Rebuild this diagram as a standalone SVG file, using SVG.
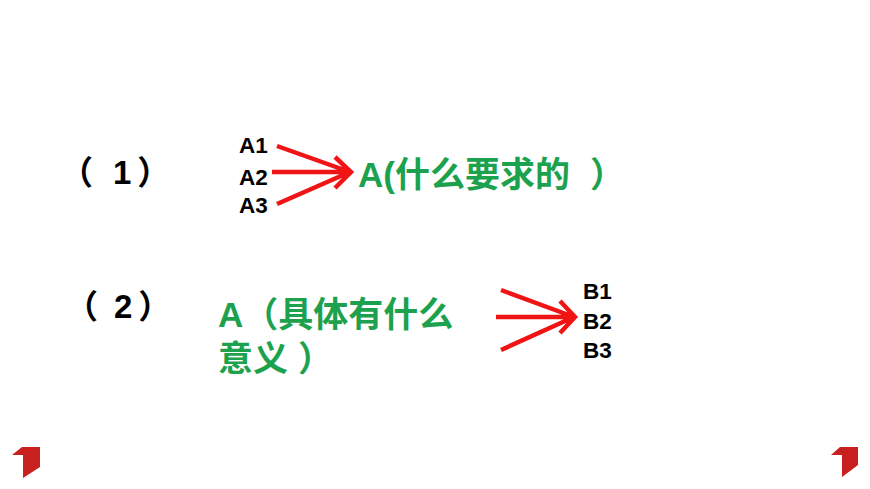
<svg xmlns="http://www.w3.org/2000/svg" width="870" height="489" viewBox="0 0 870 489">
<style>
.lbl{font-family:"Liberation Sans","Noto Sans CJK SC",sans-serif;font-weight:bold;fill:#000}
.g{font-family:"Liberation Sans","Noto Sans CJK SC",sans-serif;font-weight:bold;fill:#1ca24e;font-size:35px}
.ab{font-size:22.5px}
.num{font-size:33px}
.ar{stroke:#f01414;stroke-width:4.5;fill:none;stroke-linecap:butt;stroke-linejoin:miter}
.corner{fill:#c8201e}
</style>
<rect width="870" height="489" fill="#fff"/>
<g id="label1"><text class="lbl num" x="60" y="184">（<tspan dx="20">1</tspan><tspan dx="6">）</tspan></text></g>
<g id="label2"><text class="lbl num" x="65" y="318">（<tspan dx="16">2</tspan><tspan dx="6">）</tspan></text></g>
<g id="A1"><text class="lbl ab" x="239" y="153">A1</text></g>
<g id="A2"><text class="lbl ab" x="239" y="185">A2</text></g>
<g id="A3"><text class="lbl ab" x="239" y="213">A3</text></g>
<g id="A"><text class="g" x="358" y="187">A(什么要求的<tspan dx="20">）</tspan></text></g>
<g id="A-meaning"><text class="g" x="218" y="327">A（具体有什么</text><text class="g" x="218" y="371">意义<tspan dx="10">）</tspan></text></g>
<g id="B1"><text class="lbl ab" x="583" y="299">B1</text></g>
<g id="B2"><text class="lbl ab" x="583" y="329">B2</text></g>
<g id="B3"><text class="lbl ab" x="583" y="358">B3</text></g>
<g id="connectors">
<path class="ar" d="M277 146 L350 172 M272 172 L350 172 M277 204 L350 172 M335 157 L351 172 L335 188"/>
<path class="ar" d="M501 290 L574 317 M496 317 L574 317 M501 350 L574 317 M560 301 L575 317 L560 333"/>
</g>
<g id="corners">
<polygon class="corner" points="12,455 22,447 40,447 40,467 23,478 23,455"/>
<polygon class="corner" points="831,455 840,447 858,447 858,465 842,477 842,455"/>
</g>
</svg>
